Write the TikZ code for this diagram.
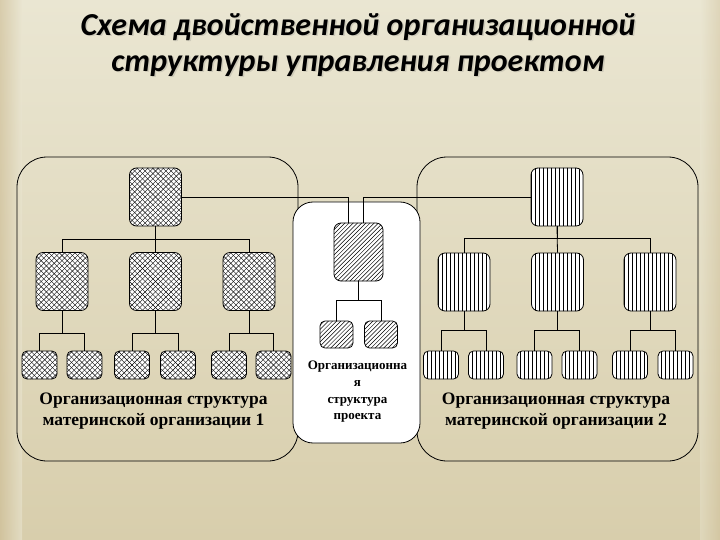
\documentclass[tikz,border=0pt]{standalone}
\usepackage{fontspec}
\setmainfont{Liberation Serif}
\newfontfamily\titlefont{Carlito}
\definecolor{bgtop}{RGB}{234,230,210}
\definecolor{bgbot}{RGB}{216,206,172}
\definecolor{bgedge}{RGB}{205,188,148}
\tikzset{
  bignode/.style={draw, line width=0.8pt, fill=white, rounded corners=7pt, minimum width=52pt, minimum height=58pt, inner sep=0pt},
  smallnode/.style={draw, line width=0.8pt, fill=white, rounded corners=5pt, minimum width=35pt, minimum height=28pt, inner sep=0pt},
  xh/.style={path picture={
      \foreach \i in {-72.8,-67.6,...,72} {
        \draw[line width=0.4pt] ([xshift=\i pt]path picture bounding box.center) ++(-45,-45) -- ++(90,90);
        \draw[line width=0.4pt] ([xshift=\i pt]path picture bounding box.center) ++(-45,45) -- ++(90,-90);
      }}},
  dh/.style={path picture={
      \foreach \i in {-72,-67.8,...,72} {
        \draw[line width=0.5pt] ([xshift=\i pt]path picture bounding box.center) ++(-45,45) -- ++(90,-90);
      }}},
  vh/.style={path picture={
      \foreach \i in {-30,-26,...,30} {
        \draw[line width=0.6pt] ([xshift=\i pt]path picture bounding box.center) ++(0,-40) -- ++(0,80);
      }}},
  container/.style={draw, line width=0.8pt, rounded corners=30pt, inner sep=0pt},
  conn/.style={line width=0.8pt},
  lbl/.style={font=\bfseries\fontsize{17.5}{21}\selectfont, align=center, inner sep=0pt},
}
\begin{document}
\begin{tikzpicture}[x=1pt,y=-1pt]
\useasboundingbox (0,0) rectangle (720,540);
% background
\shade[top color=bgtop, bottom color=bgbot] (0,0) rectangle (720,540);
\shade[left color=bgedge, right color=bgtop, opacity=0.6] (0,0) rectangle (22,540);
\shade[right color=bgedge, left color=bgtop, opacity=0.4] (700,0) rectangle (720,540);

% title
\node[font=\titlefont\bfseries\itshape\fontsize{32}{36}\selectfont, align=center, inner sep=0pt, text=black!60, opacity=0.2] at (359.5,46.5)
  {Схема двойственной организационной\\структуры управления проектом};
\node[font=\titlefont\bfseries\itshape\fontsize{32}{36}\selectfont, align=center, inner sep=0pt] (title) at (358,45)
  {Схема двойственной организационной\\структуры управления проектом};

% containers
\node[container, minimum width=281pt, minimum height=304pt] (LC) at (157.5,309) {};
\node[container, minimum width=281pt, minimum height=304pt] (RC) at (557.5,309) {};
\node[draw, line width=0.8pt, fill=white, rounded corners=20pt, minimum width=127pt, minimum height=241pt, inner sep=0pt] (CC) at (356.5,322.5) {};

% nodes left
\node[bignode, xh] (L0) at (155.5,197) {};
\node[bignode, xh] (L1) at (62,281.5) {};
\node[bignode, xh] (L2) at (155.5,281.5) {};
\node[bignode, xh] (L3) at (249,281.5) {};
\node[smallnode, xh] (L11) at (39.5,365) {};
\node[smallnode, xh] (L12) at (84.5,365) {};
\node[smallnode, xh] (L21) at (132,365) {};
\node[smallnode, xh] (L22) at (178,365) {};
\node[smallnode, xh] (L31) at (229,365) {};
\node[smallnode, xh] (L32) at (273.5,365) {};

% nodes right
\node[bignode, vh] (R0) at (557,197) {};
\node[bignode, vh] (R1) at (464,282) {};
\node[bignode, vh] (R2) at (557.5,282) {};
\node[bignode, vh] (R3) at (650,282) {};
\node[smallnode, vh] (R11) at (441,365) {};
\node[smallnode, vh] (R12) at (486,365) {};
\node[smallnode, vh] (R21) at (534.5,365) {};
\node[smallnode, vh] (R22) at (579.5,365) {};
\node[smallnode, vh] (R31) at (630,365) {};
\node[smallnode, vh] (R32) at (675.5,365) {};

% nodes center
\node[bignode, dh, minimum width=49pt] (C0) at (358.5,252) {};
\node[smallnode, dh, minimum width=33pt, minimum height=27pt] (C1) at (336.5,334.5) {};
\node[smallnode, dh, minimum width=33pt, minimum height=27pt] (C2) at (381,334.5) {};

% connectors to project
\draw[conn] (L0.east) -| ([xshift=-10.5pt]C0.north);
\draw[conn] (R0.west) -| ([xshift=4.5pt]C0.north);

% left tree
\draw[conn] (L0.south) -- ++(0,13) -| (L1.north);
\draw[conn] (L0.south) -- ++(0,13) -| (L3.north);
\draw[conn] (L0.south) -- (L2.north);
\draw[conn] (L1.south) -- ++(0,22) -| (L11.north);
\draw[conn] (L1.south) -- ++(0,22) -| (L12.north);
\draw[conn] (L2.south) -- ++(0,22) -| (L21.north);
\draw[conn] (L2.south) -- ++(0,22) -| (L22.north);
\draw[conn] (L3.south) -- ++(0,22) -| (L31.north);
\draw[conn] (L3.south) -- ++(0,22) -| (L32.north);

% right tree
\draw[conn] (R0.south) -- ++(0,12) -| (R1.north);
\draw[conn] (R0.south) -- ++(0,12) -| (R3.north);
\draw[conn] (R0.south) -- (R2.north);
\draw[conn] (R1.south) -- ++(0,19) -| (R11.north);
\draw[conn] (R1.south) -- ++(0,19) -| (R12.north);
\draw[conn] (R2.south) -- ++(0,19) -| (R21.north);
\draw[conn] (R2.south) -- ++(0,19) -| (R22.north);
\draw[conn] (R3.south) -- ++(0,19) -| (R31.north);
\draw[conn] (R3.south) -- ++(0,19) -| (R32.north);

% center tree
\draw[conn] (C0.south) -- ++(0,19) -| (C1.north);
\draw[conn] (C0.south) -- ++(0,19) -| (C2.north);

% labels
\node[lbl] (LT) at (153.5,411) {Организационная структура\\материнской организации 1};
\node[lbl] (RT) at (556,411) {Организационная структура\\материнской организации 2};
\node[font=\bfseries\fontsize{13}{16.7}\selectfont, align=center, inner sep=0pt] (CT) at (357.5,392)
  {Организационна\\я\\структура\\проекта};
\end{tikzpicture}
\end{document}
